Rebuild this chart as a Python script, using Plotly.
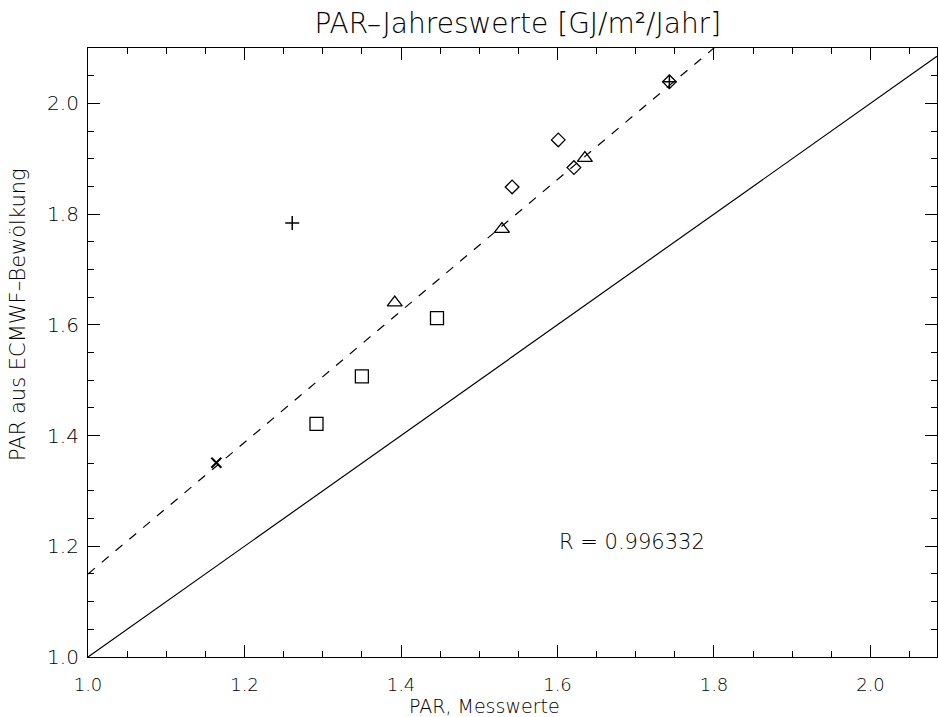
import plotly.graph_objects as go

# --- data ---
plus_x = [1.261, 1.743]
plus_y = [1.784, 2.039]
cross_x = [1.164]
cross_y = [1.351]
square_x = [1.292, 1.350, 1.446]
square_y = [1.421, 1.507, 1.612]
triangle_x = [1.392, 1.529, 1.635]
triangle_y = [1.640, 1.773, 1.901]
diamond_x = [1.542, 1.601, 1.621, 1.743]
diamond_y = [1.849, 1.934, 1.884, 2.039]

fit_intercept = -0.0375
fit_slope = 1.1875
r_value = 0.996332

x_range = [1.0, 2.085]
y_range = [1.0, 2.1]
tick_vals = [1.0, 1.2, 1.4, 1.6, 1.8, 2.0]
tick_text = ["1.0", "1.2", "1.4", "1.6", "1.8", "2.0"]

FONT = "DejaVu Sans"
W = 200
fig = go.Figure()

# 1:1 line
fig.add_trace(go.Scatter(x=x_range, y=x_range, mode="lines",
                         line=dict(color="black", width=1.2), showlegend=False))
# regression line
fx = [x_range[0], x_range[1]]
fy = [fit_intercept + fit_slope * v for v in fx]
fig.add_trace(go.Scatter(x=fx, y=fy, mode="lines",
                         line=dict(color="black", width=1.2, dash="9px,9px"),
                         showlegend=False))

def pts(x, y, symbol, size, lw=1.3):
    fig.add_trace(go.Scatter(x=x, y=y, mode="markers", showlegend=False,
                             marker=dict(symbol=symbol, size=size, color="black",
                                         line=dict(color="black", width=lw))))

pts(square_x, square_y, "square-open", 13)
pts(triangle_x, triangle_y, "triangle-up-open", 13)
pts(diamond_x, diamond_y, "diamond-open", 10.5)
pts(plus_x, plus_y, "cross-thin", 10, 1.5)
pts(cross_x, cross_y, "x-thin", 10, 2)

fig.add_annotation(x=1.599, y=1.208, xref="x", yref="y", text="R = %.6f" % r_value,
                   showarrow=False, xanchor="left", yanchor="middle",
                   font=dict(family=FONT, size=21, color="black", weight=W))

# axis titles
fig.add_annotation(x=(484.5 - 88) / 849, y=(657 - 705.5) / 609, xref="paper", yref="paper",
                   text="PAR, Messwerte", showarrow=False,
                   xanchor="center", yanchor="middle",
                   font=dict(family=FONT, size=19, color="black", weight=W))
fig.add_annotation(x=-70 / 849, y=(657 - 315) / 609, xref="paper", yref="paper",
                   text="PAR aus ECMWF–Bewölkung", showarrow=False, textangle=-90,
                   xanchor="center", yanchor="middle",
                   font=dict(family=FONT, size=21, color="black", weight=W))

axis_common = dict(
    showgrid=False, zeroline=False, showline=True, linecolor="black", linewidth=1.2,
    mirror="allticks", ticks="inside", ticklen=12, tickwidth=1.2, tickcolor="black",
    tickmode="array", tickvals=tick_vals, ticktext=tick_text, automargin=False,
    minor=dict(ticks="inside", ticklen=6, tickwidth=1.2, tickcolor="black", dtick=0.05,
               tick0=1.0, showgrid=False),
)

fig.update_xaxes(range=x_range, **axis_common, ticklabelstandoff=11,
                 tickfont=dict(family=FONT, size=18, color="black", weight=W))
fig.update_yaxes(range=y_range, **axis_common, ticklabelstandoff=4,
                 tickfont=dict(family=FONT, size=20, color="black", weight=W))

fig.update_layout(
    width=938, height=717,
    margin=dict(l=88, r=1, t=48, b=60),
    paper_bgcolor="white", plot_bgcolor="white",
    title=dict(text="PAR–Jahreswerte [GJ/m²/Jahr]", x=0.552, xanchor="center",
               y=0.968, yanchor="middle",
               font=dict(family=FONT, size=28, color="black", weight=W)),
)

fig.write_html("out.html")
